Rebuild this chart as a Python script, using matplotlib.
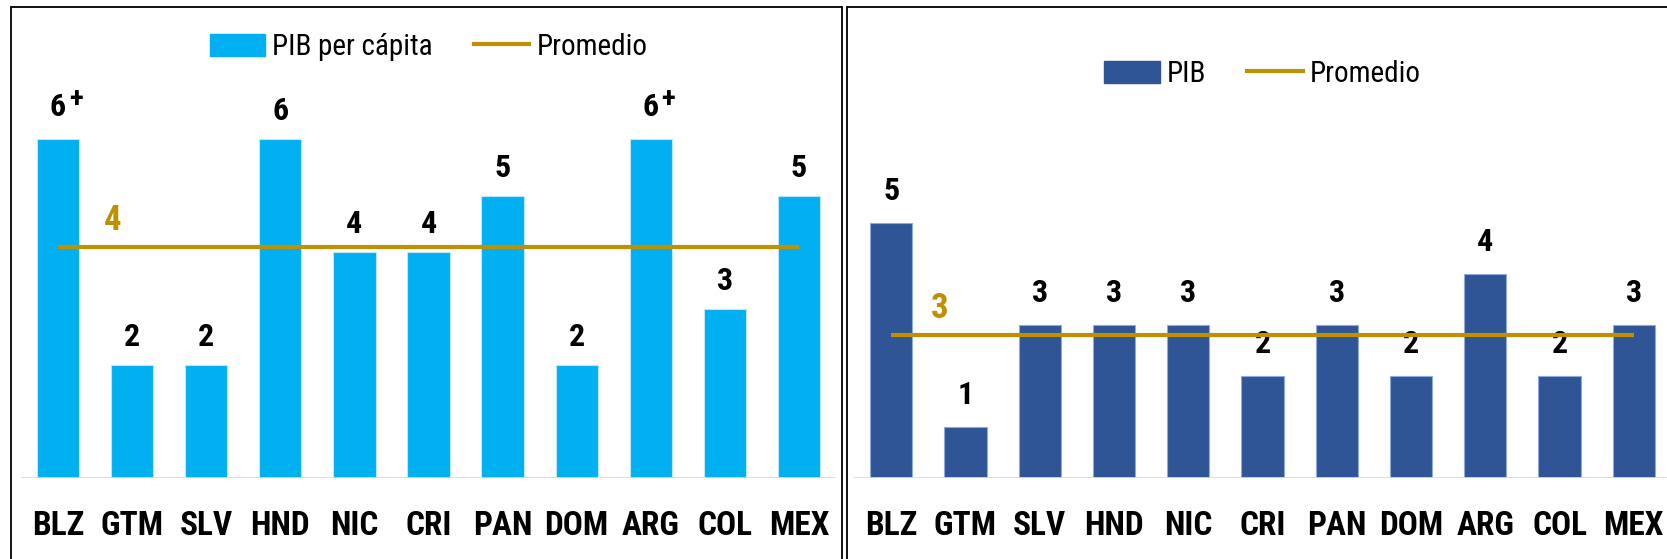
import matplotlib
matplotlib.use("Agg")
import matplotlib.pyplot as plt
import numpy as np
from matplotlib.lines import Line2D
from matplotlib.patches import Patch, Rectangle

plt.rcParams["font.family"] = ["Roboto Condensed", "Liberation Sans", "DejaVu Sans"]

countries = ["BLZ", "GTM", "SLV", "HND", "NIC", "CRI", "PAN", "DOM", "ARG", "COL", "MEX"]
pib_pc = [6, 2, 2, 6, 4, 4, 5, 2, 6, 3, 5]
pib_pc_plus = [True, False, False, False, False, False, False, False, True, False, False]
pib = [5, 1, 3, 3, 3, 2, 3, 2, 4, 2, 3]

LIGHT_BLUE = "#00B0F0"
DARK_BLUE = "#2F5597"
GOLD = "#BF9000"

W, H = 1667, 559
fig = plt.figure(figsize=(W / 100, H / 100), dpi=100)


def px(x0, y0, w, h):
    # pixel box (from top-left) -> figure fractions
    return [x0 / W, 1 - (y0 + h) / H, w / W, h / H]


def panel(ax, values, plus, color, edge, ymax, label, lab_off, avg_x):
    x = np.arange(len(values))
    ax.bar(x, values, width=0.57, color=color, edgecolor=edge, linewidth=0.8, zorder=2)
    ax.axhline(0, color="#D9D9D9", lw=2, zorder=3)
    avg = np.mean(values)
    ax.hlines(avg, 0, len(values) - 1, color=GOLD, lw=3, zorder=4)
    ax.annotate(f"{avg:.0f}", (avg_x, avg), xytext=(0, 12), textcoords="offset points",
                ha="center", va="baseline", color=GOLD, fontsize=25, fontweight="bold")
    for xi, v, p in zip(x, values, plus):
        off = 16.5 if p else lab_off
        t = ax.annotate(f"{v}", (xi, v), xytext=(0, off), textcoords="offset points",
                        ha="center", va="baseline", fontsize=23, fontweight="bold")
        if p:
            ax.annotate("+", (1, 1), xycoords=t, xytext=(2, 5), textcoords="offset points",
                        ha="left", va="top", fontsize=21, fontweight="bold")
    ax.set_xlim(-0.5, len(values) - 0.5)
    ax.set_ylim(0, ymax)
    ax.set_xticks(x)
    ax.set_xticklabels(countries, fontsize=24, fontweight="bold")
    ax.tick_params(length=0, pad=23)
    ax.set_yticks([])
    for s in ax.spines.values():
        s.set_visible(False)
    handles = [Patch(facecolor=color, edgecolor=color),
               Line2D([0], [0], color=GOLD, lw=3)]
    ax.legend(handles, [label, "Promedio"], ncol=2, frameon=False, fontsize=21,
              handlelength=1.9, handleheight=0.8, handletextpad=0.25, columnspacing=1.4,
              loc="center", bbox_to_anchor=(0.5, 1.0), bbox_transform=ax.transAxes)


ax1 = fig.add_axes(px(21, 26, 815, 452.3))
panel(ax1, pib_pc, pib_pc_plus, LIGHT_BLUE, "#BDE6F7", 8.0, "PIB per cápita", 13.5, 0.74)
ax1.get_legend().set_bbox_to_anchor((0.5, 1 - (47 - 26) / 452.3))

ax2 = fig.add_axes(px(854, 26, 817, 452.3))
panel(ax2, pib, [False] * len(pib), DARK_BLUE, "#8FAADC", 8.87, "PIB", 16.5, 0.66)
ax2.get_legend().set_bbox_to_anchor((0.5, 1 - (74 - 26) / 452.3))

# panel frames
fig.add_artist(Rectangle((11 / W, -0.1), (842 - 11) / W, 1.1 - 7 / H,
                         transform=fig.transFigure, fill=False, ec="black", lw=1.3))
fig.add_artist(Rectangle((847 / W, -0.1), 1.0, 1.1 - 7 / H,
                         transform=fig.transFigure, fill=False, ec="black", lw=1.3))

fig.savefig("out.png", dpi=100)
